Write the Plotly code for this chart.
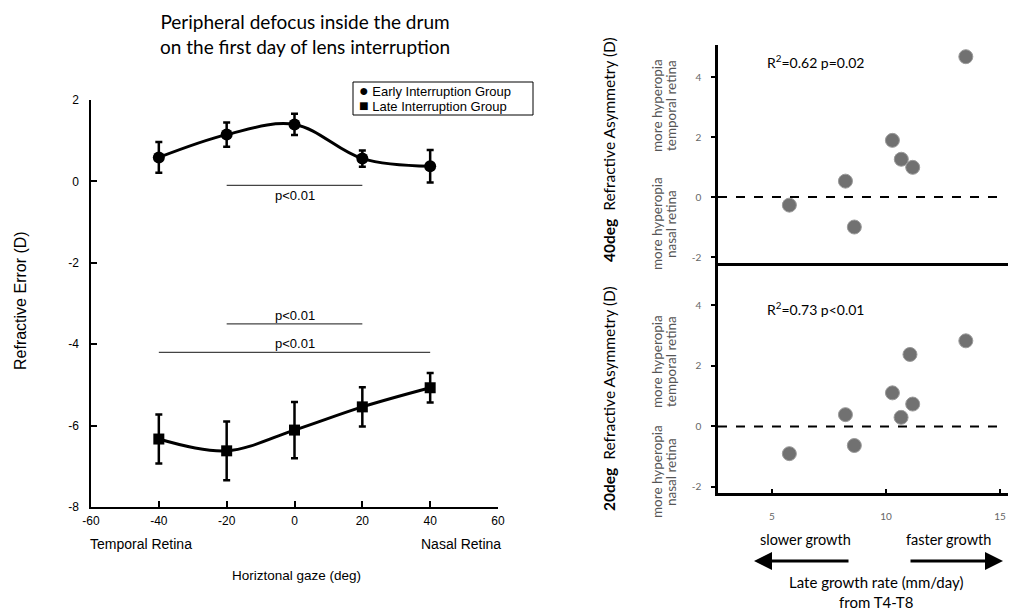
import plotly.graph_objects as go

# ---------------- data ----------------
gaze = [-40, -20, 0, 20, 40]
early_mean = [0.59, 1.15, 1.40, 0.56, 0.37]
early_err = [0.38, 0.30, 0.26, 0.20, 0.40]
late_mean = [-6.33, -6.62, -6.11, -5.54, -5.07]
late_err = [0.60, 0.72, 0.69, 0.48, 0.36]

x_ticks_left = [-60, -40, -20, 0, 20, 40, 60]
x_ticklabels_left = ["-60", "-40", "-20", "0", "20", "40", "60"]
y_ticks_left = [-8, -6, -4, -2, 0, 2]
y_ticklabels_left = ["-8", "-6", "-4", "-2", "0", "2"]

growth40 = [13.5, 10.28, 10.67, 11.17, 8.22, 5.76, 8.61]
asym40 = [4.68, 1.89, 1.26, 0.99, 0.53, -0.27, -1.00]
growth20 = [13.5, 11.05, 10.28, 11.17, 8.22, 10.66, 8.61, 5.76]
asym20 = [2.83, 2.38, 1.11, 0.74, 0.39, 0.30, -0.63, -0.90]

right_y_ticks = [-2, 0, 2, 4]
right_y_ticklabels = ["-2", "0", "2", "4"]
right_x_ticks = [5, 10, 15]

# significance bars: (x0, x1, y, label, label above?)
sig_bars = [(-20, 20, -0.1, "p<0.01", False),
            (-20, 20, -3.5, "p<0.01", True),
            (-40, 40, -4.2, "p<0.01", True)]

W, H = 1011, 612
def px(x): return x / W
def py(y): return 1 - y / H

ARIAL = "Liberation Sans, Arial"
CAL = "Lato, Open Sans"

fig = go.Figure()

# ---- left chart ----
fig.add_trace(go.Scatter(
    x=gaze, y=early_mean, mode="lines+markers",
    line=dict(color="black", width=3, shape="spline", smoothing=1),
    marker=dict(symbol="circle", size=12, color="black"),
    error_y=dict(type="data", array=early_err, color="black", thickness=2.5, width=3.5),
    xaxis="x", yaxis="y", showlegend=False))
fig.add_trace(go.Scatter(
    x=gaze, y=late_mean, mode="lines+markers",
    line=dict(color="black", width=3, shape="spline", smoothing=1),
    marker=dict(symbol="square", size=11, color="black"),
    error_y=dict(type="data", array=late_err, color="black", thickness=2.5, width=3.5),
    xaxis="x", yaxis="y", showlegend=False))

shapes = []
annotations = []
for x0, x1, yv, lab, above in sig_bars:
    shapes.append(dict(type="line", xref="x", yref="y", x0=x0, x1=x1, y0=yv, y1=yv,
                       line=dict(color="#444", width=1.3)))
    annotations.append(dict(xref="x", yref="y", x=(x0 + x1) / 2, y=yv, text=lab, showarrow=False,
                            xanchor="center", yanchor="bottom" if above else "top",
                            yshift=-1,
                            font=dict(family=ARIAL, size=13, color="black")))

def ann(x, y, text, size, family=CAL, color="black", angle=0, xa="center", ya="middle"):
    annotations.append(dict(xref="paper", yref="paper", x=px(x), y=py(y), text=text,
                            textangle=angle, showarrow=False, xanchor=xa, yanchor=ya,
                            font=dict(family=family, size=size, color=color)))

# legend box
shapes.append(dict(type="rect", xref="paper", yref="paper", x0=px(353), x1=px(533),
                   y0=py(115), y1=py(82), line=dict(color="black", width=1), fillcolor="white"))
ann(357, 90, "<span style='font-size:16px'>●</span> Early Interruption Group", 13, family=ARIAL, xa="left")
ann(357, 105, "<span style='font-size:16px'>■</span> Late Interruption Group", 13, family=ARIAL, xa="left")

# ---- right charts ----
fig.add_trace(go.Scatter(x=growth40, y=asym40, mode="markers",
                         marker=dict(size=14, color="#717171", line=dict(color="#9a9a9a", width=1)),
                         xaxis="x2", yaxis="y2", showlegend=False))
fig.add_trace(go.Scatter(x=growth20, y=asym20, mode="markers",
                         marker=dict(size=14, color="#717171", line=dict(color="#9a9a9a", width=1)),
                         xaxis="x3", yaxis="y3", showlegend=False))

for xr, yr in (("x2", "y2"), ("x3", "y3")):
    shapes.append(dict(type="line", xref=f"{xr} domain", yref=yr, x0=0, x1=0.985, y0=0, y1=0,
                       line=dict(color="black", width=2, dash="dash")))

# title
ann(305, 34, "Peripheral defocus inside the drum<br>on the first day of lens interruption", 19)
# left labels
ann(20, 301, "Refractive Error (D)", 16, family=ARIAL, angle=-90)
ann(88, 544, "Temporal Retina", 14, family=ARIAL, xa="left")
ann(503, 544, "Nasal Retina", 14, family=ARIAL, xa="right")
ann(296, 575, "Horiztonal gaze (deg)", 13.5, family=ARIAL)

# right labels
ann(609, 150, "<b>40deg</b>  Refractive Asymmetry (D)", 15.5, angle=-90)
ann(609, 399, "<b>20deg</b>  Refractive Asymmetry (D)", 15.5, angle=-90)
for yc, l1, l2 in ((106, "more hyperopia", "temporal retina"), (224, "more hyperopia", "nasal retina"),
                   (362, "more hyperopia", "temporal retina"), (472, "more hyperopia", "nasal retina")):
    ann(657, yc, l1, 13.5, color="#555", angle=-90)
    ann(671, yc, l2, 13.5, color="#555", angle=-90)
ann(765, 62, "R<sup>2</sup>=0.62 p=0.02", 14, xa="left")
ann(765, 308, "R<sup>2</sup>=0.73 p<0.01", 14, xa="left")
ann(805, 539, "slower growth", 14.5)
ann(948, 539, "faster growth", 14.5)
ann(876, 592, "Late growth rate (mm/day)<br>from T4-T8", 15)

annotations.append(dict(xref="paper", yref="paper", axref="pixel", ayref="pixel",
                        x=px(754), y=py(561), ax=96, ay=0, text="", showarrow=True,
                        arrowhead=2, arrowsize=1.2, arrowwidth=3, arrowcolor="black"))
annotations.append(dict(xref="paper", yref="paper", axref="pixel", ayref="pixel",
                        x=px(1003), y=py(561), ax=-94, ay=0, text="", showarrow=True,
                        arrowhead=2, arrowsize=1.2, arrowwidth=3, arrowcolor="black"))

axis_left = dict(showline=True, linecolor="black", linewidth=1.5, ticks="inside", ticklen=6,
                 tickwidth=1.5, tickcolor="black", showgrid=False, zeroline=False, automargin=False,
                 tickfont=dict(family=ARIAL, size=12, color="black"))
axis_right = dict(showline=True, linecolor="black", linewidth=2.5, showgrid=False, zeroline=False,
                  automargin=False, tickfont=dict(family=CAL, size=10, color="#666"))

fig.update_layout(
    width=W, height=H, margin=dict(l=0, r=0, t=0, b=0, autoexpand=False),
    paper_bgcolor="white", plot_bgcolor="white", showlegend=False,
    shapes=shapes, annotations=annotations,
    xaxis=dict(axis_left, domain=[px(91), px(498)], range=[-60, 60], tickvals=x_ticks_left,
               ticktext=x_ticklabels_left, anchor="y", ticklabelstandoff=2),
    yaxis=dict(axis_left, domain=[py(507), py(100)], range=[-8, 2], tickvals=y_ticks_left,
               ticktext=y_ticklabels_left, anchor="x", ticklabelstandoff=8),
    xaxis2=dict(axis_right, domain=[px(718), px(1008)], range=[2.63, 15.35], showticklabels=False,
                ticks="", anchor="y2"),
    yaxis2=dict(axis_right, domain=[py(263), py(45)], range=[-2.2, 5.07], tickvals=right_y_ticks,
                ticktext=right_y_ticklabels,
                ticks="outside", ticklen=4, tickwidth=2, tickcolor="black", anchor="x2",
                ticklabelstandoff=8),
    xaxis3=dict(axis_right, domain=[px(718), px(1008)], range=[2.63, 15.35], tickvals=right_x_ticks,
                ticks="inside", ticklen=4, tickwidth=2, tickcolor="black", anchor="y3",
                ticklabelstandoff=12),
    yaxis3=dict(axis_right, domain=[py(493), py(264)], range=[-2.2, 5.37], tickvals=right_y_ticks,
                ticktext=right_y_ticklabels,
                ticks="outside", ticklen=4, tickwidth=2, tickcolor="black", anchor="x3",
                ticklabelstandoff=8),
)

fig.write_html("out.html", config={"displayModeBar": False},
               post_script="document.body.style.margin='0px';")
